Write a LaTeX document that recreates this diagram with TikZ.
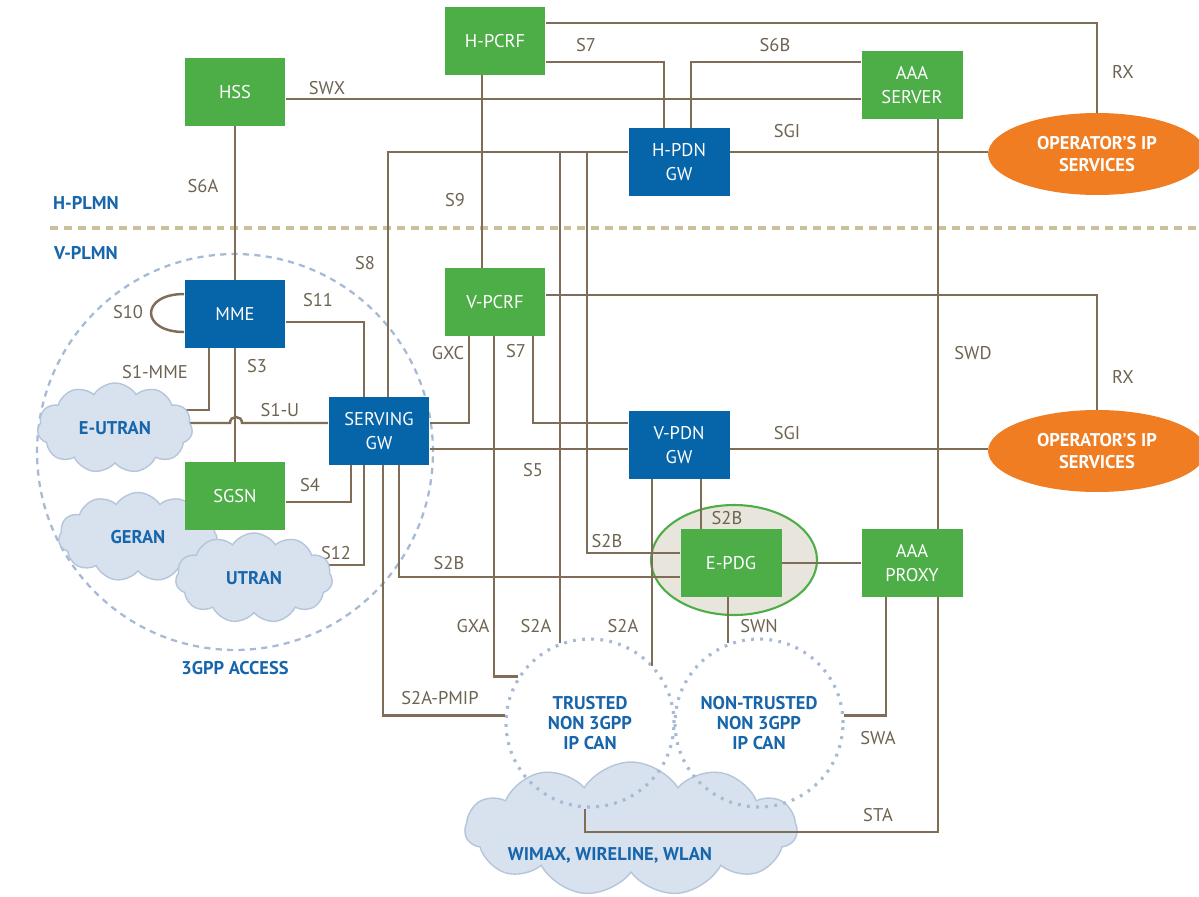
\documentclass[tikz,border=0pt]{standalone}
\usepackage{fontspec}
\setmainfont{PT Sans}
\usetikzlibrary{shapes.geometric,shapes.symbols}

\definecolor{boxgreen}{HTML}{4DAD47}
\definecolor{boxblue}{HTML}{0664A8}
\definecolor{opsorange}{HTML}{F07D22}
\definecolor{wire}{HTML}{7F6D57}
\definecolor{wirelbl}{HTML}{6E6351}
\definecolor{labelblue}{HTML}{1765AA}
\definecolor{cloudfill}{HTML}{D8E1EE}
\definecolor{clouddraw}{HTML}{B5C5DA}
\definecolor{circblue}{HTML}{A6BAD6}
\definecolor{septan}{HTML}{CDBF99}
\definecolor{zonefill}{HTML}{E8E6DC}

\newcommand{\wirefont}{\fontsize{10.5}{12}\selectfont}
\newcommand{\boxfont}{\fontsize{10.5}{13.5}\selectfont}

\pgfdeclarelayer{back}
\pgfdeclarelayer{wires}
\pgfsetlayers{back,wires,main}

\tikzset{
  greenbox/.style={rectangle, fill=boxgreen, text=white, inner sep=0pt,
    minimum width=2.02cm, minimum height=1.36cm, align=center, font=\boxfont},
  bluebox/.style={greenbox, fill=boxblue},
  opsell/.style={ellipse, fill=opsorange, text=white, inner sep=0pt,
    minimum width=4.36cm, minimum height=1.64cm, align=center,
    font=\bfseries\fontsize{10.5}{12}\selectfont},
  link/.style={draw=wire, line width=1.4pt},
  iface/.style={text=wirelbl, font=\wirefont, inner sep=0pt},
  bluelbl/.style={text=labelblue, font=\bfseries\fontsize{10.5}{11.5}\selectfont,
    align=center, inner sep=0pt},
  cloudy/.style={cloud, cloud puffs=11, cloud puff arc=115, aspect=1.7,
    fill=cloudfill, draw=clouddraw, line width=0.8pt, inner sep=0pt},
  ipcan/.style={circle, minimum size=3.36cm, inner sep=0pt, draw=circblue,
    line width=1.8pt, dash pattern=on 1.6pt off 3.6pt},
}

\begin{document}
\begin{tikzpicture}[x=0.02cm, y=-0.02cm]
\useasboundingbox (0,0) rectangle (1199,896);

% background: plmn border, access areas
\begin{pgfonlayer}{back}
\draw[draw=septan, line width=2.8pt, dash pattern=on 4.5pt off 3.4pt] (50,228) -- (1199,228);
\node[circle, minimum size=7.92cm, draw=circblue, line width=1.3pt, dash pattern=on 3.5pt off 3pt,
  label={[bluelbl, label distance=0.19cm]below:3GPP ACCESS}] (acc) at (235,452) {};
\node[cloudy, minimum width=6.64cm, minimum height=2.68cm,
  label={[bluelbl, xshift=-0.42cm, yshift=-0.52cm]center:WIMAX, WIRELINE, WLAN}] (wimax) at (631,829) {};
\node[ipcan, bluelbl] (trusted) at (590,723) {TRUSTED\\NON 3GPP\\IP CAN};
\node[ipcan, bluelbl] (nontr) at (759,723) {NON-TRUSTED\\NON 3GPP\\IP CAN};
\node[ellipse, minimum width=3.32cm, minimum height=2.2cm, fill=zonefill, draw=boxgreen,
  line width=1.2pt] (zone) at (734,560) {};
\end{pgfonlayer}

\node[bluelbl] (hplmn) at (86,203) {H-PLMN};
\node[bluelbl] (vplmn) at (86,253) {V-PLMN};

% access clouds
\node[cloudy, bluelbl, minimum width=3.1cm, minimum height=1.8cm] (eutran) at (115,428) {E-UTRAN};
\node[cloudy, bluelbl, minimum width=3.18cm, minimum height=1.78cm] (geran) at (138,537) {GERAN};
\node[cloudy, bluelbl, minimum width=3.14cm, minimum height=1.8cm] (utran) at (254,578) {UTRAN};

% network elements
\node[greenbox] (hpcrf) at (495,41) {H-PCRF};
\node[greenbox] (hss) at (235,92) {HSS};
\node[greenbox] (aaas) at (912,85) {AAA\\SERVER};
\node[bluebox] (hpdn) at (679,162) {H-PDN\\GW};
\node[opsell] (ops1) at (1097,154) {OPERATOR'S IP\\SERVICES};
\node[bluebox] (mme) at (235,314) {MME};
\node[greenbox] (vpcrf) at (495,302) {V-PCRF};
\node[bluebox] (sgw) at (379,431) {SERVING\\GW};
\node[bluebox] (vpdn) at (679,445) {V-PDN\\GW};
\node[opsell] (ops2) at (1097,451) {OPERATOR'S IP\\SERVICES};
\node[greenbox] (sgsn) at (235,496) {SGSN};
\node[greenbox] (epdg) at (731,563) {E-PDG};
\node[greenbox] (aaap) at (912,563) {AAA\\PROXY};

\begin{pgfonlayer}{wires}
\coordinate (rxa) at (1097,23);
\coordinate (s7a) at (664,62);
\coordinate (s6b) at (691,62);
\coordinate (swx) at (600,99);
\coordinate (s9) at (482,200);
\coordinate (s8) at (388,152);
\coordinate (s2ah) at (560,152);
\coordinate (s2bh) at (587,152);
\coordinate (s2bb) at (587,553);
\coordinate (rxb) at (1097,295);
\coordinate (gxc) at (469,423);
\coordinate (gxa) at (494,677);
\coordinate (s7b) at (533,423);
\coordinate (s5) at (500,449);
\coordinate (swd) at (938,300);
\coordinate (s2av) at (652,500);
\coordinate (s2bv) at (701,500);
\coordinate (swn) at (728,620);
\coordinate (swa) at (886,700);
\coordinate (stb) at (585,832);
\coordinate (pmip) at (383,700);
\coordinate (s2bs) at (399,577);
\coordinate (s12) at (364,565);
\coordinate (s4) at (351,502);
\coordinate (s1m) at (209,410);
\coordinate (s1u) at (280,423);
\coordinate (hopa) at (230,423);
\coordinate (hopb) at (242,423);
\coordinate (s11) at (364,322);
\coordinate (s10a) at (184,294);
\coordinate (s10b) at (184,332);

% home side
\draw[link] (hpcrf.east |- rxa) -- (rxa) -- (ops1.north);
\draw[link] (hpcrf.east |- s7a) -- (s7a) -- (s7a |- hpdn.north);
\draw[link] (aaas.west |- s6b) -- (s6b) -- (s6b |- hpdn.north);
\draw[link] (hss.east |- swx) -- (aaas.west |- swx);
\draw[link] (hss.south) -- (mme.north);
\draw[link] (hpcrf.south -| s9) -- (vpcrf.north -| s9);
\draw[link] (sgw.north -| s8) -- (s8) -- (hpdn.west |- s8);
\draw[link] (hpdn.east |- s8) -- (ops1.west |- s8);
\draw[link] (s2ah) -- (s2ah |- trusted.111);
\draw[link] (s2bh) -- (s2bb) -- (epdg.west |- s2bb);
\draw[link] (aaas.south -| swd) -- (aaap.north -| swd);

% visited side
\draw[link] (vpcrf.east |- rxb) -- (rxb) -- (ops2.north);
\draw[link] (vpcrf.south -| gxc) |- (sgw.east |- gxc);
\draw[link] (vpcrf.south -| gxa) |- (trusted.147);
\draw[link] (vpcrf.south -| s7b) |- (vpdn.west |- s7b);
\draw[link] (sgw.east |- s5) -- (vpdn.west |- s5);
\draw[link] (vpdn.east |- s5) -- (ops2.west |- s5);
\draw[link] (vpdn.south -| s2av) -- (s2av |- trusted.42);
\draw[link] (vpdn.south -| s2bv) -- (epdg.north -| s2bv);
\draw[link] (epdg.east) -- (aaap.west);
\draw[link] (epdg.south -| swn) -- (swn |- nontr.111);
\draw[link] (aaap.south -| swa) |- (nontr.5);
\draw[link] (aaap.south -| swd) |- (stb) -- (stb |- trusted.south);
\draw[link] (sgw.south -| pmip) |- (trusted.175);
\draw[link] (sgw.south -| s2bs) |- (epdg.west |- s2bs);

% 3gpp access
\draw[link] (mme.east |- s11) -- (s11) -- (s11 |- sgw.north);
\draw[link] (mme.west |- s10a) .. controls (140,294) and (140,332) .. (mme.west |- s10b);
\draw[link] (utran |- s12) -- (s12) -- (s12 |- sgw.south);
\draw[link] (sgsn.east |- s4) -- (s4) -- (s4 |- sgw.south);
\draw[link] (mme.south) -- (sgsn.north);
\draw[link] (mme.south -| s1m) -- (s1m) -- (eutran |- s1m);
\draw[link] (eutran |- s1u) -- (hopa) .. controls (230,415) and (242,415) .. (hopb) -- (sgw.west |- s1u);

% interface names
\node[iface] (lswx) at (327,88) {SWX};
\node[iface] (ls6a) at (203,186) {S6A};
\node[iface] (ls7h) at (586,45) {S7};
\node[iface] (ls6b) at (775,45) {S6B};
\node[iface] (lrxh) at (1123,72) {RX};
\node[iface] (lsgih) at (787,131) {SGI};
\node[iface] (ls9) at (455,200) {S9};
\node[iface] (ls8) at (365,263) {S8};
\node[iface] (ls10) at (128,312) {S10};
\node[iface] (ls11) at (318,300) {S11};
\node[iface] (ls1mme) at (155,372) {S1-MME};
\node[iface] (ls3) at (257,366) {S3};
\node[iface] (ls1u) at (280,410) {S1-U};
\node[iface] (ls4) at (310,485) {S4};
\node[iface] (ls12) at (336,553) {S12};
\node[iface] (lgxc) at (448,353) {GXC};
\node[iface] (ls7v) at (516,351) {S7};
\node[iface] (ls5) at (533,470) {S5};
\node[iface] (lsgiv) at (787,433) {SGI};
\node[iface] (lswd) at (973,353) {SWD};
\node[iface] (lrxv) at (1123,377) {RX};
\node[iface] (ls2bh) at (607,541) {S2B};
\node[iface] (ls2bv) at (727,518) {S2B};
\node[iface] (ls2bs) at (449,563) {S2B};
\node[iface] (lgxa) at (473,626) {GXA};
\node[iface] (ls2ah) at (536,626) {S2A};
\node[iface] (ls2av) at (623,626) {S2A};
\node[iface] (lswn) at (759,626) {SWN};
\node[iface] (lpmip) at (440,698) {S2A-PMIP};
\node[iface] (lswa) at (878,738) {SWA};
\node[iface] (lsta) at (878,815) {STA};
\end{pgfonlayer}
\end{tikzpicture}
\end{document}
